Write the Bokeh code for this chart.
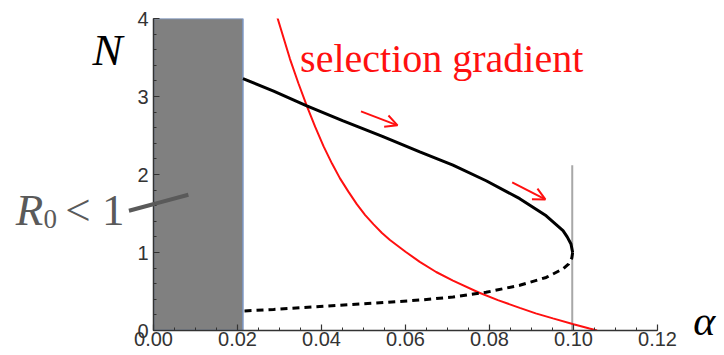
from bokeh.plotting import figure
from bokeh.models import Label, Arrow, OpenHead, SingleIntervalTicker, NumeralTickFormatter, Range1d
from bokeh.embed import file_html
from bokeh.resources import INLINE
import math

# Region where R0 < 1
r0_region_alpha = [0.0, 0.0213]
r0_region_N = [0.0, 4.0]

# Stable (upper) equilibrium branch
upper_alpha = [0.0213, 0.0286, 0.0365, 0.0450, 0.0545, 0.0634, 0.0713, 0.0792,
               0.0872, 0.0935, 0.0975, 0.0985, 0.0994, 0.0998]
upper_N = [3.23, 3.07, 2.88, 2.69, 2.49, 2.29, 2.12, 1.92,
           1.69, 1.47, 1.28, 1.20, 1.11, 1.00]

# Unstable (lower) equilibrium branch
lower_alpha = [0.0998, 0.0996, 0.0988, 0.0975, 0.0935, 0.0872, 0.0792, 0.0713, 0.0634,
               0.0524, 0.0405, 0.0286, 0.0213]
lower_N = [1.00, 0.93, 0.85, 0.79, 0.68, 0.58, 0.49, 0.43, 0.39,
           0.35, 0.31, 0.27, 0.25]

# Selection gradient curve
sel_alpha = [0.0290, 0.0325, 0.0345, 0.0365, 0.0385, 0.0405, 0.0425, 0.0444, 0.0464,
             0.0484, 0.0504, 0.0524, 0.0544, 0.0563, 0.0600, 0.0634, 0.0673, 0.0713,
             0.0773, 0.0820, 0.0872, 0.0910, 0.0951, 0.1000, 0.1038, 0.1056]
sel_N = [4.10, 3.48, 3.17, 2.88, 2.61, 2.36, 2.14, 1.95, 1.78,
         1.62, 1.48, 1.36, 1.25, 1.16, 1.01, 0.88, 0.75, 0.64,
         0.49, 0.39, 0.29, 0.22, 0.155, 0.08, 0.025, 0.0]

# Vertical line at the fold
fold_alpha = [0.0997, 0.0997]
fold_N = [0.0, 2.12]

# Direction arrows along the stable branch
arrow_start_alpha = [0.0494, 0.0854]
arrow_start_N = [2.81, 1.90]
arrow_end_alpha = [0.0581, 0.0933]
arrow_end_N = [2.63, 1.68]

# Pointer from the R0 < 1 label into the region (ends, data units)
pointer_alpha = [-0.0055, 0.0083]
pointer_N = [1.54, 1.74]

x_ticks_interval = 0.02
y_ticks_interval = 1
x_min, x_max = 0.0, 0.12
y_min, y_max = 0.0, 4.0

W, H = 724, 355
L, R, T, B = 153, 67, 18, 25
p = figure(width=W, height=H, output_backend="svg", toolbar_location=None,
           x_range=Range1d(x_min, x_max), y_range=Range1d(y_min, y_max),
           min_border_left=L, min_border_right=R, min_border_top=T, min_border_bottom=B)
p.outline_line_color = None
p.xgrid.visible = False
p.ygrid.visible = False
p.background_fill_color = "white"

for ax in (p.xaxis[0], p.yaxis[0]):
    ax.axis_line_color = "#333333"
    ax.axis_line_width = 1.5
    ax.major_tick_line_color = "#333333"
    ax.minor_tick_line_color = "#333333"
    ax.major_tick_line_width = 1.2
    ax.minor_tick_line_width = 1
    ax.major_tick_in = 6
    ax.major_tick_out = 0
    ax.minor_tick_in = 3
    ax.minor_tick_out = 0
    ax.major_label_text_font = "Liberation Sans"
    ax.major_label_text_font_size = "20px"
    ax.major_label_text_color = "#333333"

p.xaxis[0].ticker = SingleIntervalTicker(interval=x_ticks_interval, num_minor_ticks=4)
p.xaxis[0].formatter = NumeralTickFormatter(format="0.00")
p.xaxis[0].major_label_standoff = 1
p.yaxis[0].ticker = SingleIntervalTicker(interval=y_ticks_interval, num_minor_ticks=5)
p.yaxis[0].major_label_standoff = 5

p.quad(left=r0_region_alpha[0], right=r0_region_alpha[1], bottom=r0_region_N[0], top=r0_region_N[1],
       fill_color="#808080", line_color="#7b96c4", line_width=1.5)

p.line(fold_alpha, fold_N, line_color="#a8a8a8", line_width=2)
p.line(sel_alpha, sel_N, line_color="#ff1010", line_width=2)
p.line(upper_alpha, upper_N, line_color="black", line_width=3)
p.line(lower_alpha, lower_N, line_color="black", line_width=3, line_dash="7 5")

for xs, ys, xe, ye in zip(arrow_start_alpha, arrow_start_N, arrow_end_alpha, arrow_end_N):
    p.add_layout(Arrow(end=OpenHead(size=12, line_color="#ff1010", line_width=2),
                       x_start=xs, y_start=ys, x_end=xe, y_end=ye,
                       line_color="#ff1010", line_width=2))

serif = "Liberation Serif"
p.add_layout(Label(x=0.0349, y=3.49, text="selection gradient", text_font=serif,
                   text_font_size="40px", text_color="#ff1010", text_baseline="alphabetic"))

# labels outside the frame live in side panels (not clipped); side panels offset y by the top border
def side_label(side, x, y, text, size, color, style="normal"):
    p.add_layout(Label(x=x, y=y, y_offset=T, text=text, text_font=serif, text_font_style=style,
                       text_font_size=size, text_color=color, text_baseline="alphabetic"), side)

side_label("left", -0.0145, 3.36, "N", "45px", "black", "italic")
side_label("left", -0.0328, 1.32, "R", "45px", "#5a5a5a", "italic")
side_label("left", -0.0210, 1.32, "< 1", "45px", "#5a5a5a")
side_label("right", -0.0262, 1.205, "0", "27px", "#5a5a5a")
side_label("right", 0.1285, -0.103, "α", "42px", "black", "italic")

# pointer: part inside the frame as a line glyph
t0 = (x_min - pointer_alpha[0]) / (pointer_alpha[1] - pointer_alpha[0])
n_at_edge = pointer_N[0] + t0 * (pointer_N[1] - pointer_N[0])
p.line([x_min, pointer_alpha[1]], [n_at_edge, pointer_N[1]], line_color="#5a5a5a", line_width=4)

# part outside the frame as a thin rotated box (side-panel annotation, so it is not clipped)
fw = W - L - R
fh = H - T - B
dx_px = (x_min - pointer_alpha[0]) / (x_max - x_min) * fw
dy_px = (n_at_edge - pointer_N[0]) / (y_max - y_min) * fh
length = math.hypot(dx_px, dy_px) + 2
p.add_layout(Label(x=(pointer_alpha[0] + x_min) / 2, y=(pointer_N[0] + n_at_edge) / 2,
                   text=" ", text_font_size="3.5px", text_align="center",
                   text_baseline="middle", angle=math.atan2(dy_px, dx_px),
                   padding=(int(round(length / 2)), 0), background_fill_color="#5a5a5a",
                   text_color="#5a5a5a"), "right")

open("out.html", "w").write(file_html(p, INLINE))
